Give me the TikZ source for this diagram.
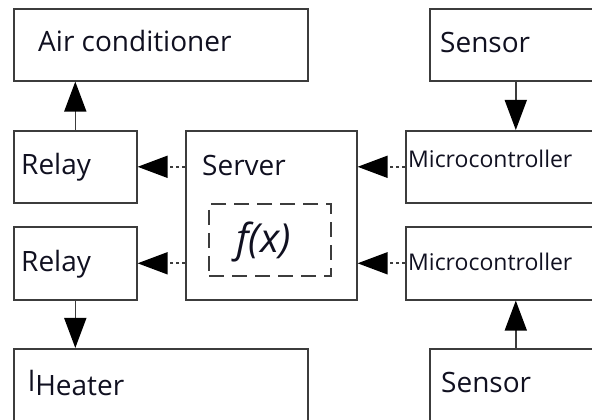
\documentclass[tikz,border=0pt]{standalone}
\usepackage{fontspec}
\setmainfont{Open Sans}
\usetikzlibrary{arrows.meta}
\definecolor{lc}{HTML}{3C3C3C}
\definecolor{tc}{HTML}{101020}
\tikzset{
  box/.style={draw=lc, line width=1.6pt, rectangle, inner sep=0pt, anchor=north west},
  fxbox/.style={draw=lc, line width=2pt, dash pattern=on 15pt off 8pt, rectangle, inner sep=0pt, anchor=north west},
  lbl/.style={inner sep=0pt, anchor=base west, text=tc, font=\fontsize{28}{28}\selectfont},
  smalllbl/.style={lbl, font=\fontsize{23}{23}\selectfont},
  fxlbl/.style={lbl, font=\fontsize{40}{40}\selectfont\itshape},
  solidarrow/.style={draw=lc, line width=1.6pt, -{Triangle[length=30pt,width=22pt,fill=black,color=black]}},
  dotarrow/.style={solidarrow, dash pattern=on 3pt off 3pt},
}
\begin{document}
\begin{tikzpicture}[x=1pt,y=1pt]
\useasboundingbox (0,0) rectangle (592,420);
\clip (0,0) rectangle (592,420);
% boxes (pixel coordinates, y measured upward)
\node[box, minimum width=294pt, minimum height=72pt] (ac) at (13,412) {};
\node[box, minimum width=123pt, minimum height=72pt] (relay1) at (13,290) {};
\node[box, minimum width=123pt, minimum height=73pt] (relay2) at (13,194) {};
\node[box, minimum width=294pt, minimum height=100pt] (heater) at (13,72) {};
\node[box, minimum width=171pt, minimum height=169pt] (server) at (185,290) {};
\node[fxbox, minimum width=122pt, minimum height=72pt] (fx) at (208,217) {};
\node[box, minimum width=172pt, minimum height=72pt] (sensor1) at (429,412) {};
\node[box, minimum width=240pt, minimum height=72pt] (micro1) at (405,290) {};
\node[box, minimum width=240pt, minimum height=73pt] (micro2) at (405,194) {};
\node[box, minimum width=172pt, minimum height=100pt] (sensor2) at (429,72) {};
% labels
\node[lbl] (act) at (38,368) {Air conditioner};
\node[lbl] (relay1t) at (21,245) {Relay};
\node[lbl] (relay2t) at (21,148) {Relay};
\node[lbl] (heatert) at (28,24) {\raisebox{4pt}{l}Heater};
\node[lbl] (servert) at (202,244) {Server};
\node[fxlbl] (fxt) at (236,167) {f(x)};
\node[lbl] (sensor1t) at (440,367) {Sensor};
\node[lbl] (sensor2t) at (441,27) {Sensor};
\node[smalllbl] (micro1t) at (408,252) {Microcontroller};
\node[smalllbl] (micro2t) at (408,149) {Microcontroller};
% connectors
\draw[solidarrow] (relay1.north) -- (relay1.north |- ac.south);
\draw[solidarrow] (relay2.south) -- (relay2.south |- heater.north);
\draw[solidarrow] (sensor1.south) -- (sensor1.south |- micro1.north);
\draw[solidarrow] (sensor2.north) -- (sensor2.north |- micro2.south);
\draw[dotarrow] (server.west |- relay1.east) -- (relay1.east);
\draw[dotarrow] (server.west |- relay2.east) -- (relay2.east);
\draw[dotarrow] (micro1.west) -- (micro1.west -| server.east);
\draw[dotarrow] (micro2.west) -- (micro2.west -| server.east);
\end{tikzpicture}
\end{document}
